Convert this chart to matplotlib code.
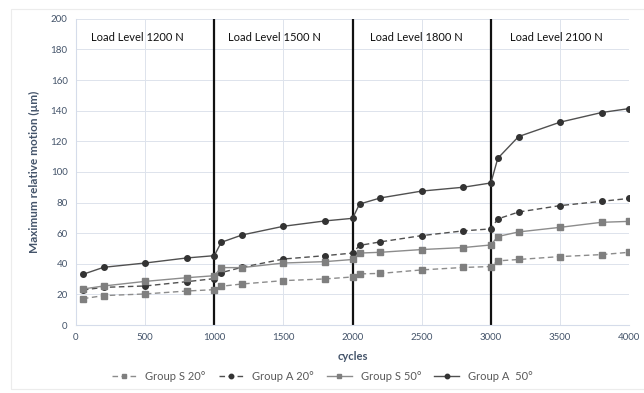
import matplotlib.pyplot as plt
from matplotlib.patches import Rectangle

# data
cycles = [50, 200, 500, 800, 1000, 1050, 1200, 1500, 1800, 2000,
          2050, 2200, 2500, 2800, 3000, 3050, 3200, 3500, 3800, 4000]
group_s_20 = [17.2, 19.2, 20.3, 22.2, 23.1, 25.3, 26.8, 29.0, 30.1, 31.4,
              33.4, 33.7, 36.0, 37.6, 38.2, 41.9, 42.8, 44.7, 46.0, 47.5]
group_a_20 = [22.9, 24.6, 25.5, 28.3, 30.3, 34.2, 37.7, 43.1, 45.3, 47.0,
              52.0, 54.3, 58.4, 61.5, 62.8, 69.3, 73.8, 78.0, 80.8, 82.7]
group_s_50 = [23.5, 25.5, 28.5, 30.9, 32.2, 37.5, 37.5, 40.5, 41.4, 42.8,
              47.0, 47.5, 49.3, 50.6, 52.3, 57.8, 60.8, 63.8, 67.1, 67.7]
group_a_50 = [33.1, 37.7, 40.5, 43.8, 45.3, 54.0, 58.8, 64.5, 68.0, 69.7,
              79.0, 83.0, 87.5, 90.0, 92.8, 108.9, 123.1, 132.5, 138.8, 141.4]

load_bounds = [1000, 2000, 3000]
load_labels = ['Load Level 1200 N', 'Load Level 1500 N',
               'Load Level 1800 N', 'Load Level 2100 N']
load_label_x = [110, 1100, 2125, 3140]

plt.rcParams['font.family'] = ['Lato', 'DejaVu Sans']

fig = plt.figure(figsize=(6.44, 3.93), dpi=100)
fig.patches.append(Rectangle((0.017, 0.01), 0.99, 0.968, transform=fig.transFigure,
                             fill=False, edgecolor='#ececec', linewidth=0.8, zorder=0))
ax = fig.add_axes([0.118, 0.173, 0.859, 0.779])

dark = '#333333'
dark_line = '#505050'
grey = '#7f7f7f'
grey_line = '#8c8c8c'
ax.plot(cycles, group_s_20, '--', color=grey_line, marker='s', markersize=4,
        mfc=grey, mec=grey, linewidth=1, dashes=(4, 2.5), label='Group S 20°')
ax.plot(cycles, group_a_20, '--', color=dark_line, marker='o', markersize=4,
        mfc=dark, mec=dark, linewidth=1, dashes=(4, 2.5), label='Group A 20°')
ax.plot(cycles, group_s_50, '-', color=grey_line, marker='s', markersize=4,
        mfc=grey, mec=grey, linewidth=1, label='Group S 50°')
ax.plot(cycles, group_a_50, '-', color=dark_line, marker='o', markersize=4,
        mfc=dark, mec=dark, linewidth=1, label='Group A  50°')

for xb in load_bounds:
    ax.axvline(xb, color='#111111', linewidth=1.6, zorder=1)
for xt, lbl in zip(load_label_x, load_labels):
    ax.text(xt, 188, lbl, fontsize=8, color='#111111', va='center', ha='left')

ax.set_xlim(0, 4000)
ax.set_ylim(0, 200)
ax.set_xticks(range(0, 4001, 500))
ax.set_yticks(range(0, 201, 20))
ax.grid(True, color='#dde3ec', linewidth=0.7)
ax.set_axisbelow(True)
for side in ['top', 'right']:
    ax.spines[side].set_visible(False)
for side in ['left', 'bottom']:
    ax.spines[side].set_color('#d5dcea')
ax.tick_params(length=0, labelsize=7, colors='#44546a', pad=6)

ax.set_xlabel('cycles', fontsize=8, fontweight='bold', color='#44546a', labelpad=6)
ax.set_ylabel('Maximum relative motion (µm)', fontsize=8.5, fontweight='bold',
              color='#44546a', labelpad=8)

ax.legend(loc='center', bbox_to_anchor=(0.445, -0.167), ncol=4, frameon=False,
          fontsize=8, handlelength=2.2, columnspacing=1.2, markerscale=0.8,
          labelcolor='#595959')

plt.savefig('out.png', dpi=100)
